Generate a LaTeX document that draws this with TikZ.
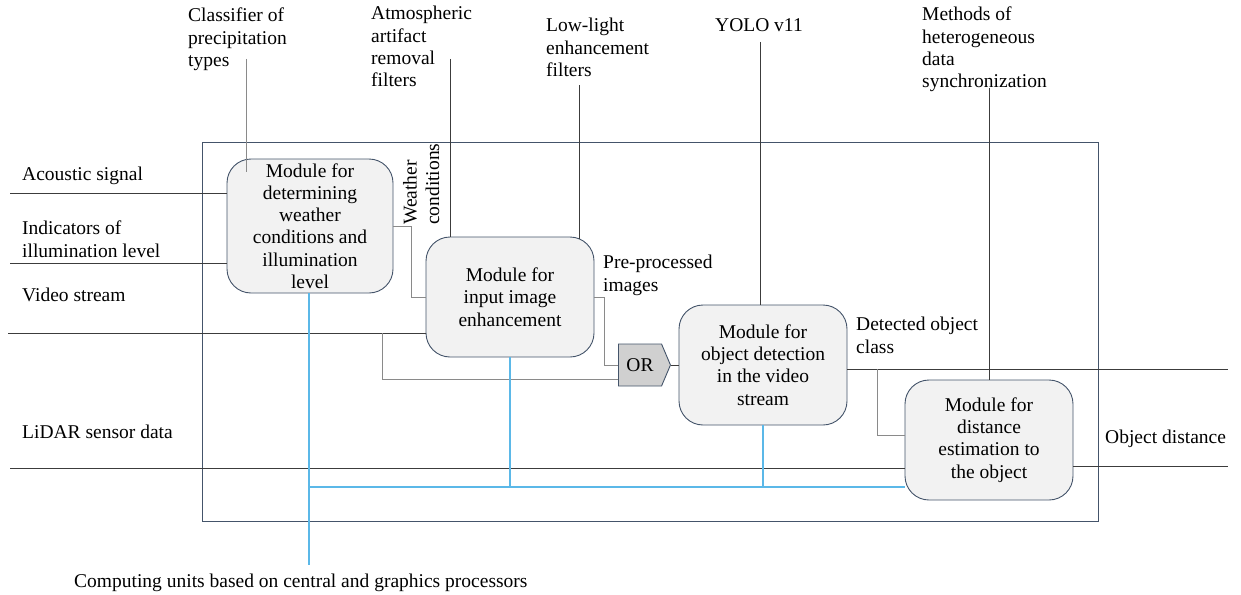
\documentclass[tikz,border=0pt]{standalone}
\usepackage{fontspec}
\setmainfont{Liberation Serif}
\usetikzlibrary{shapes.symbols,calc}
\definecolor{boxline}{HTML}{44546A}
\definecolor{boxfill}{HTML}{F2F2F2}
\definecolor{wire}{HTML}{3C3C3C}
\definecolor{wiregray}{HTML}{8A8A8A}
\definecolor{bluewire}{HTML}{5BB8E8}
\definecolor{orfill}{HTML}{D0D0D0}
\begin{document}
\begin{tikzpicture}[x=1pt,y=-1pt,
  font=\fontsize{19.5}{22.3}\selectfont,
  module/.style={draw=boxline, fill=boxfill, rounded corners=24pt, line width=0.9pt, align=center, inner sep=0pt},
  lbl/.style={inner sep=0pt, align=left},
  wireline/.style={draw=wire, line width=0.9pt},
  graywire/.style={draw=wiregray, line width=0.9pt},
  bluew/.style={draw=bluewire, line width=1.5pt}]

\useasboundingbox (0,0) rectangle (1241,594);

% frame
\draw[draw=boxline, line width=0.9pt] (202,142) rectangle (1098,521);

% modules
\node[module, minimum width=166pt, minimum height=134pt] (m1) at (310,226)
  {Module for\\determining\\weather\\conditions and\\illumination\\level};
\node[module, minimum width=168pt, minimum height=120pt] (m2) at (510,297)
  {Module for\\input image\\enhancement};
\node[module, minimum width=168pt, minimum height=120pt] (m3) at (763,365)
  {Module for\\object detection\\in the video\\stream};
\node[module, minimum width=168pt, minimum height=120pt] (m4) at (989,440)
  {Module for\\distance\\estimation to\\the object};
\node[draw=boxline, fill=orfill, signal, signal to=east, signal pointer angle=134,
  minimum width=52pt, minimum height=42pt, inner sep=0pt, line width=0.9pt] (or) at (640,365) {OR};

% inputs
\coordinate (inA) at (10,193);
\draw[wireline] (inA) -- (inA -| m1.west);
\coordinate (inI) at (10,263);
\draw[wireline] (inI) -- (inI -| m1.west);
\coordinate (inV) at (8,333);
\draw[wireline] (inV) -- (inV -| m2.west);
\coordinate (vb) at (382,333);
\coordinate (orlow) at ($(or.west)+(0,14)$);
\draw[graywire] (vb) |- (orlow);
\coordinate (inL) at (10,468);
\draw[wireline] (inL) -- (inL -| m4.west);

% internal connections
\draw[graywire] (m1.east) -- ++(18,0) |- (m2.west);
\draw[graywire] (m2.east) -- ++(10,0) |- (or.west);
\draw[wireline] (or.east) -- (m3.west);
\coordinate (outD) at (1228,369);
\draw[wireline] (outD -| m3.east) -- (outD);
\coordinate (db) at (877,369);
\coordinate (m4in) at ($(m4.west)+(0,-5)$);
\draw[graywire] (db) |- (m4in);
\coordinate (outO) at (1228,466);
\draw[wireline] (outO -| m4.east) -- (outO);

% computing units bus
\coordinate (cpu) at (309,565);
\coordinate (bus) at (309,487);
\draw[bluew] (m1.south -| cpu) -- (cpu);
\draw[bluew] (bus) -- (bus -| m4.west);
\draw[bluew] (m2.south) -- (m2.south |- bus);
\draw[bluew] (m3.south) -- (m3.south |- bus);

% mechanisms from the top
\coordinate (tC) at (246,59);
\draw[graywire] (tC) -- ++(0,113);
\coordinate (tA) at (450,59);
\draw[wireline] (tA) -- (tA |- m2.north);
\coordinate (tL) at (579,85);
\coordinate (tLe) at ($(tL |- m2.north)+(0,2)$);
\draw[wireline] (tL) -- (tLe);
\coordinate (tY) at (760,42);
\draw[wireline] (tY) -- (tY |- m3.north);
\coordinate (tM) at (989,88);
\draw[wireline] (tM) -- (tM |- m4.north);

% labels
\node[lbl, anchor=base west] (lA) at (22,180) {Acoustic signal};
\node[lbl, anchor=north west] (lI) at (22,221) {Indicators of\\illumination level};
\node[lbl, anchor=base west] (lV) at (22,301) {Video stream};
\node[lbl, anchor=base west] (lL) at (22,438) {LiDAR sensor data};
\node[lbl, anchor=base west] (lCPU) at (74,587) {Computing units based on central and graphics processors};
\node[lbl, anchor=base west] (lO) at (1105,443) {Object distance};
\node[lbl, anchor=north west] (lP) at (603,255) {Pre-processed\\images};
\node[lbl, anchor=north west] (lD) at (856,317) {Detected object\\class};
\node[lbl, anchor=north west] (lC) at (188,8) {Classifier of\\precipitation\\types};
\node[lbl, anchor=north west] (lAt) at (371,6) {Atmospheric\\artifact\\removal\\filters};
\node[lbl, anchor=north west] (lLL) at (546,18) {Low-light\\enhancement\\filters};
\node[lbl, anchor=north west] (lY) at (715,18) {YOLO v11};
\node[lbl, anchor=north west] (lM) at (922,7) {Methods of\\heterogeneous\\data\\synchronization};
\node[lbl, rotate=90, anchor=north west] (lW) at (403,225) {Weather\\conditions};
\end{tikzpicture}
\end{document}
